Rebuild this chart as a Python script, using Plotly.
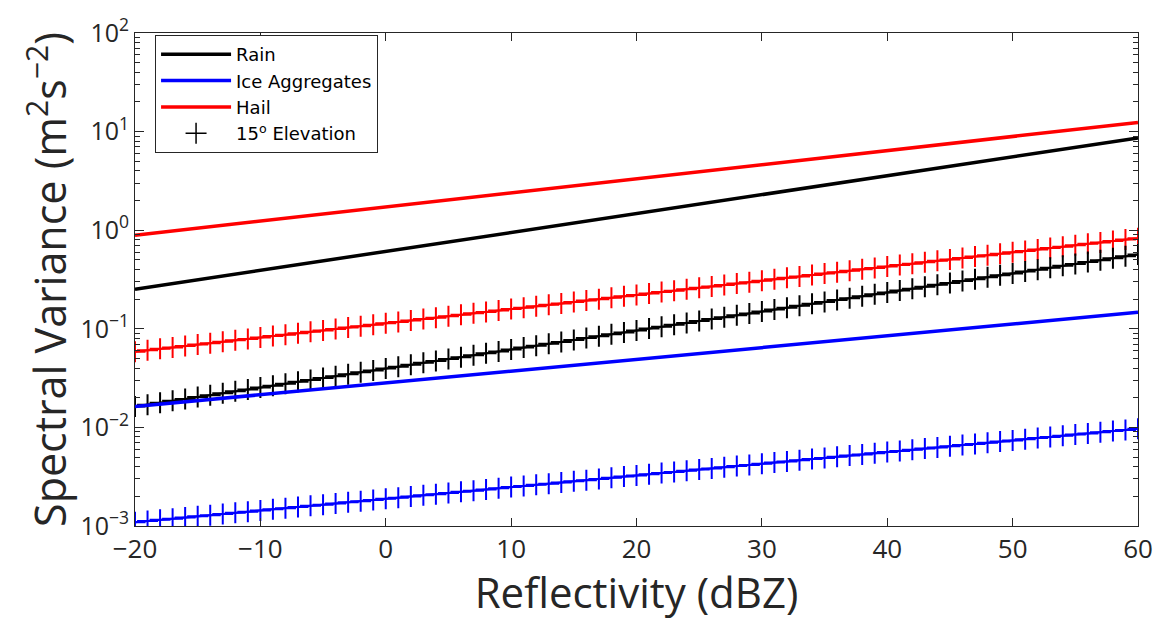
import plotly.graph_objects as go

# Reflectivity (dBZ)
x_ends = [-20, 60]
x_marks = list(range(-20, 61))

# Solid curves (0 deg elevation), end values
rain = [0.252, 8.63]
ice = [0.0163, 0.147]
hail = [0.89, 12.4]

# 15 deg elevation curves, one value per dBZ
hail15 = [
    0.0586, 0.0606, 0.0626, 0.0647, 0.0669, 0.0692, 0.0715, 0.0739, 0.0764, 0.0790,
    0.0816, 0.0844, 0.0872, 0.0902, 0.0932, 0.0963, 0.0996, 0.1029, 0.1064, 0.1100,
    0.1137, 0.1175, 0.1215, 0.1256, 0.1298, 0.1342, 0.1387, 0.1434, 0.1482, 0.1532,
    0.1584, 0.1637, 0.1693, 0.1750, 0.1809, 0.1870, 0.1933, 0.1998, 0.2065, 0.2135,
    0.2207, 0.2281, 0.2358, 0.2438, 0.2520, 0.2605, 0.2693, 0.2783, 0.2877, 0.2974,
    0.3074, 0.3178, 0.3285, 0.3395, 0.3510, 0.3628, 0.3750, 0.3877, 0.4007, 0.4142,
    0.4282, 0.4426, 0.4575, 0.4730, 0.4889, 0.5054, 0.5224, 0.5400, 0.5582, 0.5770,
    0.5965, 0.6166, 0.6374, 0.6589, 0.6811, 0.7040, 0.7278, 0.7523, 0.7776, 0.8038,
    0.831,
]
rain15 = [
    0.01626, 0.01700, 0.01777, 0.01858, 0.01942, 0.02030, 0.02123, 0.02219, 0.02320, 0.02425,
    0.02535, 0.02650, 0.02771, 0.02897, 0.03028, 0.03166, 0.03310, 0.03460, 0.03617, 0.03781,
    0.03953, 0.04133, 0.04320, 0.04517, 0.04722, 0.04936, 0.05160, 0.05395, 0.05640, 0.05896,
    0.06164, 0.06444, 0.06736, 0.07042, 0.07362, 0.07696, 0.08046, 0.08412, 0.08794, 0.09193,
    0.09611, 0.10047, 0.10503, 0.10980, 0.11479, 0.12000, 0.12545, 0.13115, 0.13711, 0.14334,
    0.14985, 0.15665, 0.16377, 0.17121, 0.17898, 0.18711, 0.19561, 0.20450, 0.21378, 0.22349,
    0.23364, 0.24425, 0.25535, 0.26695, 0.27907, 0.29174, 0.30500, 0.31885, 0.33333, 0.34846,
    0.36430, 0.38084, 0.39814, 0.41622, 0.43512, 0.45488, 0.47555, 0.49715, 0.51973, 0.54333,
    0.5680,
]
ice15 = [
    0.001094, 0.001124, 0.001155, 0.001187, 0.001220, 0.001254, 0.001288, 0.001324, 0.001361, 0.001398,
    0.001437, 0.001477, 0.001517, 0.001559, 0.001602, 0.001647, 0.001692, 0.001739, 0.001787, 0.001836,
    0.001887, 0.001939, 0.001993, 0.002048, 0.002105, 0.002163, 0.002223, 0.002284, 0.002347, 0.002412,
    0.002479, 0.002547, 0.002618, 0.002690, 0.002764, 0.002841, 0.002919, 0.003000, 0.003083, 0.003168,
    0.003256, 0.003345, 0.003438, 0.003533, 0.003631, 0.003731, 0.003834, 0.003940, 0.004049, 0.004161,
    0.004276, 0.004394, 0.004515, 0.004640, 0.004768, 0.004900, 0.005036, 0.005175, 0.005318, 0.005465,
    0.005616, 0.005771, 0.005931, 0.006095, 0.006263, 0.006436, 0.006614, 0.006797, 0.006985, 0.007178,
    0.007376, 0.007580, 0.007789, 0.008005, 0.008226, 0.008453, 0.008687, 0.008927, 0.009174, 0.009427,
    0.009688,
]

x_ticks = [-20, -10, 0, 10, 20, 30, 40, 50, 60]
y_tickvals = [1e-3, 1e-2, 1e-1, 1e0, 1e1, 1e2]
y_ticktext = ["10<sup>−3</sup>", "10<sup>−2</sup>", "10<sup>−1</sup>",
              "10<sup>0</sup>", "10<sup>1</sup>", "10<sup>2</sup>"]
y_minor = [m * d for d in [1e-3, 1e-2, 1e-1, 1e0, 1e1] for m in range(2, 10)]

FONT = "Open Sans"
AX = "#262626"


def cross(color, w=2):
    return dict(color=color, symbol="cross-thin", size=15, line=dict(color=color, width=w))


fig = go.Figure()

for yy, col in [(hail15, "#ff0000"), (rain15, "#000000"), (ice15, "#0000ff")]:
    fig.add_trace(go.Scatter(x=x_marks, y=yy, mode="lines+markers",
                             line=dict(color=col, width=2), marker=cross(col),
                             showlegend=False))

fig.add_trace(go.Scatter(x=x_ends, y=rain, mode="lines", name="Rain",
                         line=dict(color="#000000", width=3.5)))
fig.add_trace(go.Scatter(x=x_ends, y=ice, mode="lines", name="Ice Aggregates",
                         line=dict(color="#0000ff", width=3.5)))
fig.add_trace(go.Scatter(x=x_ends, y=hail, mode="lines", name="Hail",
                         line=dict(color="#ff0000", width=3.5)))
fig.add_trace(go.Scatter(x=[None], y=[None], mode="markers",
                         name="15<sup>o</sup> Elevation",
                         marker=cross("#000000", 1.5)))

fig.update_layout(
    width=1171, height=620,
    margin=dict(l=135, r=33, t=14, b=94),
    paper_bgcolor="white", plot_bgcolor="white",
    font=dict(family=FONT, color=AX),
    legend=dict(x=0.02, y=0.996, xanchor="left", yanchor="top",
                bordercolor=AX, borderwidth=1, bgcolor="white",
                font=dict(family="DejaVu Sans", size=18, color="#000000"),
                tracegroupgap=0, itemwidth=70),
    xaxis=dict(
        range=[-20, 60], tickvals=x_ticks, ticks="inside", ticklen=8,
        tickcolor=AX, showline=True, linecolor=AX, linewidth=1, mirror="ticks",
        showgrid=False, zeroline=False,
        tickfont=dict(family=FONT, size=26, color=AX),
        title=dict(text="Reflectivity (dBZ)", font=dict(family=FONT, size=42, color=AX),
                   standoff=12),
    ),
    yaxis=dict(
        type="log", range=[-3, 2], tickvals=y_tickvals, ticktext=y_ticktext,
        ticks="inside", ticklen=9, tickcolor=AX,
        showline=True, linecolor=AX, linewidth=1, mirror="ticks",
        showgrid=False, zeroline=False, ticklabeloverflow="allow",
        minor=dict(tickmode="array", tickvals=y_minor, ticks="inside", ticklen=5,
                   tickcolor=AX, showgrid=False),
        tickfont=dict(family=FONT, size=25, color=AX),
        title=dict(text="Spectral Variance (m<sup>2</sup>s<sup>−2</sup>)",
                   font=dict(family=FONT, size=43, color=AX), standoff=0),
    ),
)

fig.write_html("out.html")
